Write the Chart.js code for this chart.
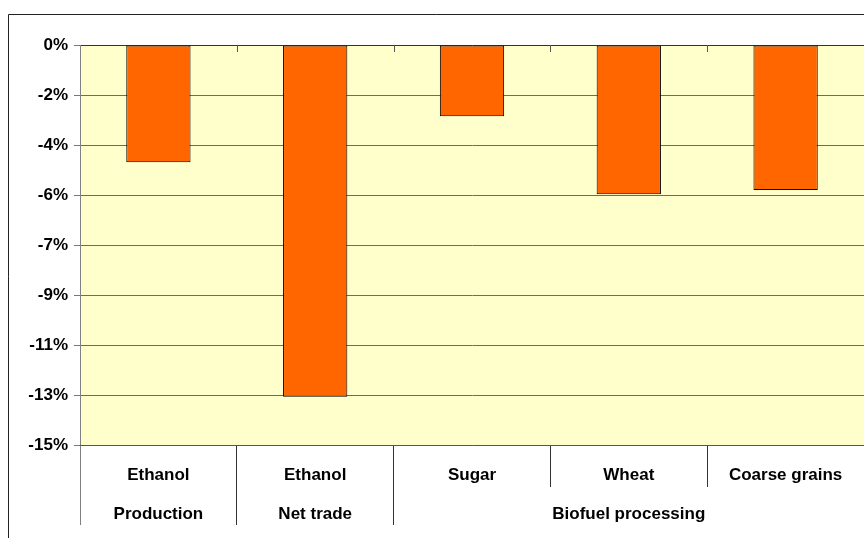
<!DOCTYPE html>
<html><head><meta charset="utf-8">
<script src="https://cdn.jsdelivr.net/npm/chart.js@4/dist/chart.umd.min.js"></script>
<style>html,body{margin:0;padding:0;background:#fff;}#wrap{width:864px;height:538px;position:relative;}</style>
</head><body><div id="wrap"><canvas id="c" width="864" height="538"></canvas></div>
<script>
const categories = ['Ethanol', 'Ethanol', 'Sugar', 'Wheat', 'Coarse grains'];
const groupLabels = ['Production', 'Net trade', '', 'Biofuel processing', ''];
const values = [-4.40, -13.19, -2.67, -5.60, -5.44];
const yTickLabels = ['0%', '-2%', '-4%', '-6%', '-7%', '-9%', '-11%', '-13%', '-15%'];
const yMin = -15, yMax = 0;
const yStep = (yMax - yMin) / (yTickLabels.length - 1);

const FONT = {family: "'Liberation Sans', Arial, sans-serif", size: 17, weight: 'bold'};

const decor = {
  id: 'decor',
  beforeDraw(chart) {
    const a = chart.chartArea, ctx = chart.ctx;
    ctx.save();
    ctx.fillStyle = '#FFFFCC';
    ctx.fillRect(a.left, a.top, a.right - a.left, a.bottom - a.top);
    ctx.restore();
  },
  afterDraw(chart) {
    const ctx = chart.ctx, a = chart.chartArea, xs = chart.scales.x;
    ctx.save();
    ctx.strokeStyle = '#222';
    ctx.lineWidth = 1;
    ctx.beginPath();
    ctx.moveTo(8.5, 538); ctx.lineTo(8.5, 14.5); ctx.lineTo(864, 14.5);
    ctx.stroke();
    ctx.strokeStyle = '#555';
    ctx.beginPath();
    for (let i = 1; i < categories.length; i++) {
      const x = Math.round((xs.getPixelForValue(i - 1) + xs.getPixelForValue(i)) / 2) + 0.5;
      ctx.moveTo(x, a.top); ctx.lineTo(x, a.top + 7);
    }
    ctx.stroke();
    ctx.restore();
  }
};

new Chart(document.getElementById('c'), {
  type: 'bar',
  data: {
    labels: categories,
    datasets: [{
      data: values,
      backgroundColor: '#FF6600',
      borderColor: '#000',
      borderWidth: 1,
      borderSkipped: false,
      barPercentage: 0.41,
      categoryPercentage: 1.0
    }]
  },
  options: {
    responsive: false,
    animation: false,
    devicePixelRatio: 1,
    layout: {padding: {top: 45, right: 0, bottom: 0, left: 0}},
    plugins: {legend: {display: false}, tooltip: {enabled: false}},
    scales: {
      y: {
        min: yMin, max: yMax,
        afterFit(s) { s.width = 80; },
        ticks: {
          stepSize: yStep,
          color: '#000',
          font: FONT,
          padding: 6,
          callback: (v) => yTickLabels[Math.round((yMax - v) / yStep)]
        },
        grid: {
          color: (c) => (c.tick && c.tick.value === 0) ? '#333' : '#6e6e58',
          tickLength: 6,
          tickColor: '#777'
        },
        border: {display: true, color: '#808080'}
      },
      x: {
        weight: 1,
        afterFit(s) { s.height = 41; },
        ticks: {color: '#000', font: FONT, padding: -22, maxRotation: 0, autoSkip: false},
        grid: {
          offset: true,
          drawOnChartArea: false,
          tickLength: 42,
          color: (c) => c.index === 0 ? '#808080' : '#333'
        },
        border: {display: true, color: '#555'}
      },
      x2: {
        type: 'category',
        position: 'bottom',
        weight: 2,
        labels: groupLabels,
        offset: true,
        afterFit(s) { s.height = 52; },
        ticks: {color: '#000', font: FONT, padding: -21, maxRotation: 0, autoSkip: false},
        grid: {
          offset: true,
          drawOnChartArea: false,
          tickLength: 39,
          color: (c) => c.index === 0 ? '#808080' : ((c.index === 3 || c.index === 4) ? 'rgba(0,0,0,0)' : '#333')
        },
        border: {display: false}
      }
    }
  },
  plugins: [decor]
});
</script>
</body></html>
